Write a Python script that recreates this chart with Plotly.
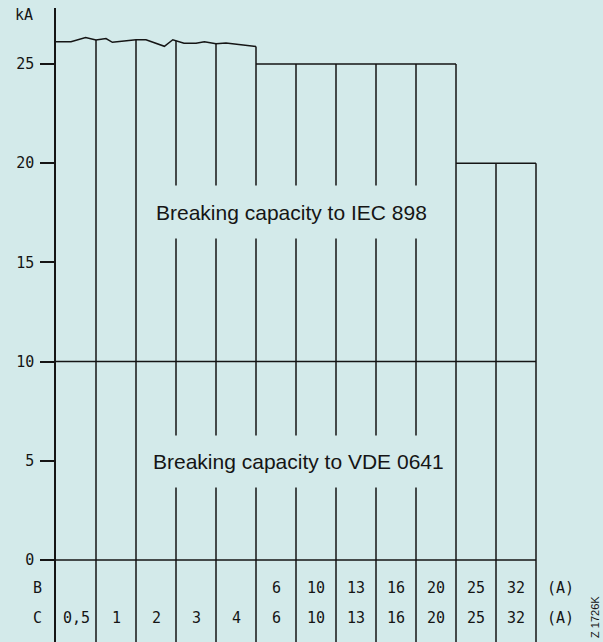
import plotly.graph_objects as go
import numpy as np

# ---------------- data ----------------
ratings_B = ["", "", "", "", "", "6", "10", "13", "16", "20", "25", "32"]
ratings_C = ["0,5", "1", "2", "3", "4", "6", "10", "13", "16", "20", "25", "32"]
iec_898_kA = [26.2, 26.2, 26.2, 26.1, 26.0, 25, 25, 25, 25, 25, 20, 20]
vde_0641_kA = [10, 10, 10, 10, 10, 10, 10, 10, 10, 10, 10, 10]
# torn (wavy) top edge of the first five columns: position in columns, kA
edge_pos = [0, 0.375, 0.74, 1.0, 1.25, 1.41, 2.0, 2.25, 2.71, 2.92, 3.2, 3.5, 3.71, 4.0, 4.25, 5.0]
edge_kA = [26.12, 26.12, 26.33, 26.21, 26.28, 26.09, 26.22, 26.22, 25.89, 26.22,
           26.04, 26.04, 26.12, 26.02, 26.06, 25.88]
y_ticks = [0, 5, 10, 15, 20, 25]

# ---------------- style ----------------
BG = "rgb(211,234,234)"
INK = "#151515"
LW = 1.5
MONO = "DejaVu Sans Mono"
SANS = "Liberation Sans, Arial, sans-serif"

W, H = 603, 642
ML, MT = 56, 8
n = len(ratings_C)
Y_MIN, Y_MAX = -4.13, 27.82
X_MAX = (W - ML) / 40.0
ROW_B, ROW_C = -1.41, -2.90


def px_to_paper(px):
    return (px - ML) / (W - ML)


def py_to_paper(py):
    return (H - py) / (H - MT)


fig = go.Figure()

# vertical column boundaries
vx, vy = [], []
for b in range(1, n + 1):
    if b <= 5:
        top = float(np.interp(b, edge_pos, edge_kA))
    else:
        left = iec_898_kA[b - 1]
        right = iec_898_kA[b] if b < n else 0
        top = max(left, right)
    vx += [b, b, None]
    vy += [Y_MIN - 1, top, None]
fig.add_trace(go.Scatter(x=vx, y=vy, mode="lines", line=dict(color=INK, width=LW),
                         hoverinfo="skip", showlegend=False))

# torn top edge
fig.add_trace(go.Scatter(x=edge_pos, y=edge_kA, mode="lines", line=dict(color=INK, width=LW),
                         hoverinfo="skip", showlegend=False))

# flat tops of the remaining columns
tx, ty = [], []
for i in range(5, n):
    tx += [i, i + 1, None]
    ty += [iec_898_kA[i], iec_898_kA[i], None]
fig.add_trace(go.Scatter(x=tx, y=ty, mode="lines", line=dict(color=INK, width=LW),
                         hoverinfo="skip", showlegend=False))

# VDE 0641 level
hx, hy = [], []
for i in range(n):
    hx += [i, i + 1, None]
    hy += [vde_0641_kA[i], vde_0641_kA[i], None]
fig.add_trace(go.Scatter(x=hx, y=hy, mode="lines", line=dict(color=INK, width=LW),
                         hoverinfo="skip", showlegend=False))

# zero line
fig.add_trace(go.Scatter(x=[0, n], y=[0, 0], mode="lines", line=dict(color=INK, width=LW),
                         hoverinfo="skip", showlegend=False))

# table rows
for i in range(n):
    for row, lab in ((ROW_B, ratings_B[i]), (ROW_C, ratings_C[i])):
        if lab:
            fig.add_annotation(x=i + 0.5, y=row, text=lab, showarrow=False,
                               font=dict(family=MONO, size=15, color=INK))
for row in (ROW_B, ROW_C):
    fig.add_annotation(x=n + 0.6, y=row, text="(A)", showarrow=False,
                       font=dict(family=MONO, size=15, color=INK))
for row, lab in ((ROW_B, "B"), (ROW_C, "C")):
    fig.add_annotation(xref="paper", x=px_to_paper(31), y=row, text=lab, showarrow=False,
                       xanchor="left", font=dict(family=MONO, size=15, color=INK))

# axis unit
fig.add_annotation(xref="paper", x=px_to_paper(24), y=27.47, text="kA", showarrow=False,
                   xanchor="center", yanchor="middle",
                   font=dict(family=MONO, size=15, color=INK))

# region labels (opaque boxes interrupt the inner lines)
fig.add_annotation(x=5.875, y=17.55, text="Breaking capacity to IEC 898", showarrow=False,
                   font=dict(family=SANS, size=21, color=INK), bgcolor=BG,
                   height=48, borderpad=2)
fig.add_annotation(x=6.06, y=4.95, text="Breaking capacity to VDE 0641", showarrow=False,
                   font=dict(family=SANS, size=21, color=INK), bgcolor=BG,
                   height=47, borderpad=2)

# figure code
fig.add_annotation(xref="paper", yref="paper", x=px_to_paper(595), y=py_to_paper(617),
                   xanchor="center", yanchor="middle", text="Z 1726K",
                   textangle=-90, showarrow=False,
                   font=dict(family=SANS, size=11, color=INK))

fig.update_layout(
    width=W, height=H,
    margin=dict(l=ML, r=0, t=MT, b=0),
    paper_bgcolor=BG, plot_bgcolor=BG,
    showlegend=False,
    xaxis=dict(range=[0, X_MAX], visible=False, fixedrange=True),
    yaxis=dict(range=[Y_MIN, Y_MAX], tickvals=y_ticks, ticks="outside", ticklen=14,
               tickwidth=LW, tickcolor=INK, showline=True, linecolor=INK, linewidth=LW,
               showgrid=False, zeroline=False, fixedrange=True, ticklabelstandoff=3,
               tickfont=dict(family=MONO, size=15, color=INK)),
)

fig.write_html("out.html", config={"displayModeBar": False},
               post_script="document.body.style.margin='0';"
                           "document.body.style.background='" + BG + "';")
